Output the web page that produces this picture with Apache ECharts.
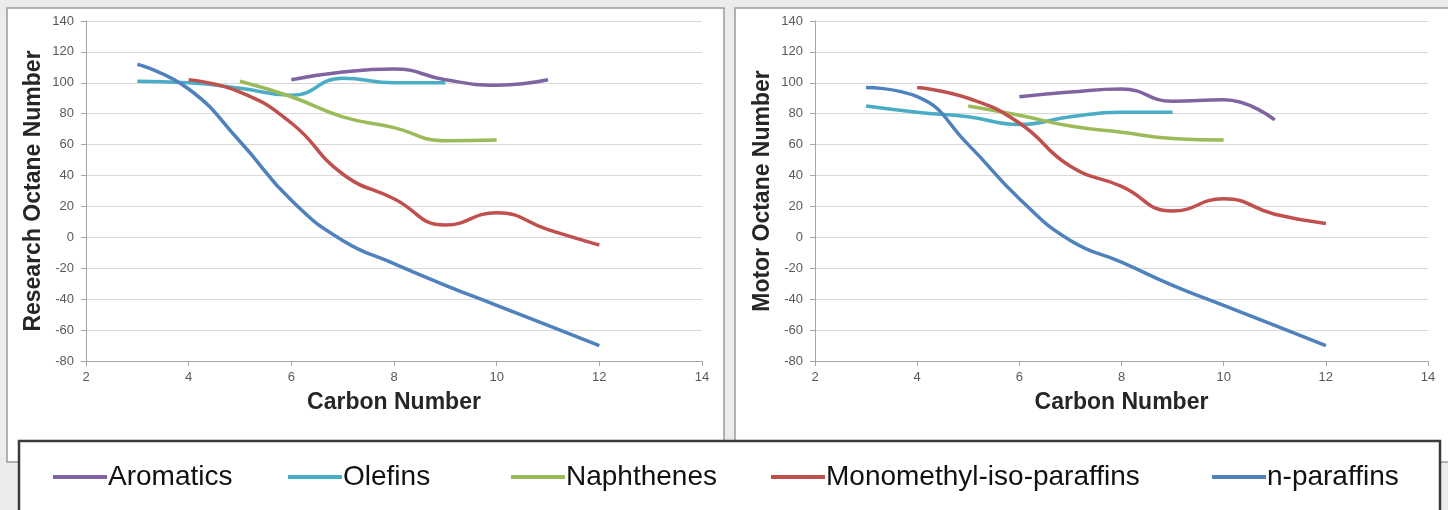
<!DOCTYPE html>
<html>
<head>
<meta charset="utf-8">
<script src="https://cdn.jsdelivr.net/npm/echarts@6/dist/echarts.min.js"></script>
<style>
html, body { margin: 0; padding: 0; background: #ececec; }
#main { width: 1448px; height: 510px; }
</style>
</head>
<body>
<div id="main"></div>
<script>
// carbon numbers for each hydrocarbon family
var carbonAromatics = [6, 7, 8, 9, 10, 11];
var carbonOlefins = [3, 4, 5, 6, 7, 8, 9];
var carbonNaphthenes = [5, 6, 7, 8, 9, 10];
var carbonIso = [4, 5, 6, 7, 8, 9, 10, 11, 12];
var carbonNormal = [3, 4, 5, 6, 7, 8, 9, 10, 11, 12];

// research octane number (left chart)
var ronAromatics = [102, 107, 109, 102, 98.5, 102];
var ronOlefins = [101, 100, 96.5, 92, 103, 100, 100];
var ronNaphthenes = [101, 91, 78, 71, 62.5, 63];
var ronIso = [102, 94, 74, 41, 25, 8, 16, 5, -5];
var ronNormal = [112, 96, 62, 24, -2, -17, -31, -44, -57, -70];

// motor octane number (right chart)
var monAromatics = [91, 94, 96, 88, 89, 76];
var monOlefins = [85, 81, 78, 73, 78, 81, 81];
var monNaphthenes = [85, 79, 72, 68, 64, 63];
var monIso = [97, 90, 74, 46, 33, 17, 25, 15, 9];
var monNormal = [97, 91, 60, 25, -2, -16, -31, -44, -57, -70];

var names = ['Aromatics', 'Olefins', 'Naphthenes', 'Monomethyl-iso-paraffins', 'n-paraffins'];
var colors = ['#8064A2', '#4BACC6', '#9BBB59', '#C0504D', '#4F81BD'];

function pairs(xs, ys) {
    var out = [];
    for (var i = 0; i < xs.length; i++) out.push([xs[i], ys[i]]);
    return out;
}

var font = 'Liberation Sans, Arial, sans-serif';

function xAxisFor(idx) {
    return {
        type: 'value', gridIndex: idx, min: 2, max: 14, interval: 2,
        name: 'Carbon Number', nameLocation: 'middle', nameGap: 30,
        nameTextStyle: { fontFamily: font, fontWeight: 'bold', fontSize: 23, color: '#262626' },
        axisLine: { onZero: false, lineStyle: { color: '#a6a6a6' } },
        axisTick: { show: true, length: 5, lineStyle: { color: '#a6a6a6' } },
        axisLabel: { fontFamily: font, fontSize: 13, color: '#595959', margin: 10 },
        splitLine: { show: false }
    };
}
function yAxisFor(idx, title) {
    return {
        type: 'value', gridIndex: idx, min: -80, max: 140, interval: 20,
        name: title, nameLocation: 'middle', nameGap: 41,
        nameTextStyle: { fontFamily: font, fontWeight: 'bold', fontSize: 23, color: '#262626' },
        axisLine: { show: true, onZero: false, lineStyle: { color: '#a6a6a6' } },
        axisTick: { show: true, length: 5, lineStyle: { color: '#a6a6a6' } },
        axisLabel: { fontFamily: font, fontSize: 13, color: '#595959', margin: 12 },
        splitLine: { lineStyle: { color: '#d9d9d9' } }
    };
}

var left = [ronAromatics, ronOlefins, ronNaphthenes, ronIso, ronNormal];
var right = [monAromatics, monOlefins, monNaphthenes, monIso, monNormal];
var carbons = [carbonAromatics, carbonOlefins, carbonNaphthenes, carbonIso, carbonNormal];

var series = [];
for (var k = 0; k < 5; k++) {
    series.push({
        name: names[k], type: 'line', xAxisIndex: 0, yAxisIndex: 0,
        data: pairs(carbons[k], left[k]), smooth: 0.5, symbol: 'none',
        lineStyle: { width: 3.5, color: colors[k] }, itemStyle: { color: colors[k] }
    });
    series.push({
        name: names[k], type: 'line', xAxisIndex: 1, yAxisIndex: 1,
        data: pairs(carbons[k], right[k]), smooth: 0.5, symbol: 'none',
        lineStyle: { width: 3.5, color: colors[k] }, itemStyle: { color: colors[k] }
    });
}

// one legend per entry, placed like the original
var legendLeft = [53, 288, 511, 771, 1212];
var legends = [];
for (var j = 0; j < 5; j++) {
    legends.push({
        data: [names[j]], left: legendLeft[j], top: 463, padding: 0,
        icon: 'rect', itemWidth: 54, itemHeight: 4, itemGap: 0, selectedMode: false,
        textStyle: { fontFamily: font, fontSize: 28, color: '#111', padding: [0, 0, 0, -4] }
    });
}

var chart = echarts.init(document.getElementById('main'));
chart.setOption({
    animation: false,
    backgroundColor: '#ececec',
    graphic: [
        { type: 'rect', z: -3, shape: { x: 7, y: 8, width: 717, height: 454 },
          style: { fill: '#fff', stroke: '#9a9a9a', lineWidth: 1.5 } },
        { type: 'rect', z: -3, shape: { x: 735, y: 8, width: 720, height: 454 },
          style: { fill: '#fff', stroke: '#9a9a9a', lineWidth: 1.5 } },
        { type: 'rect', z: -2, shape: { x: 19, y: 441, width: 1421, height: 90 },
          style: { fill: '#fff', stroke: '#3a3a3a', lineWidth: 2.5 } }
    ],
    grid: [
        { left: 86, right: 746, top: 21, bottom: 149 },
        { left: 815, right: 20, top: 21, bottom: 149 }
    ],
    xAxis: [xAxisFor(0), xAxisFor(1)],
    yAxis: [yAxisFor(0, 'Research Octane Number'), yAxisFor(1, 'Motor Octane Number')],
    legend: legends,
    series: series
});
</script>
</body>
</html>
